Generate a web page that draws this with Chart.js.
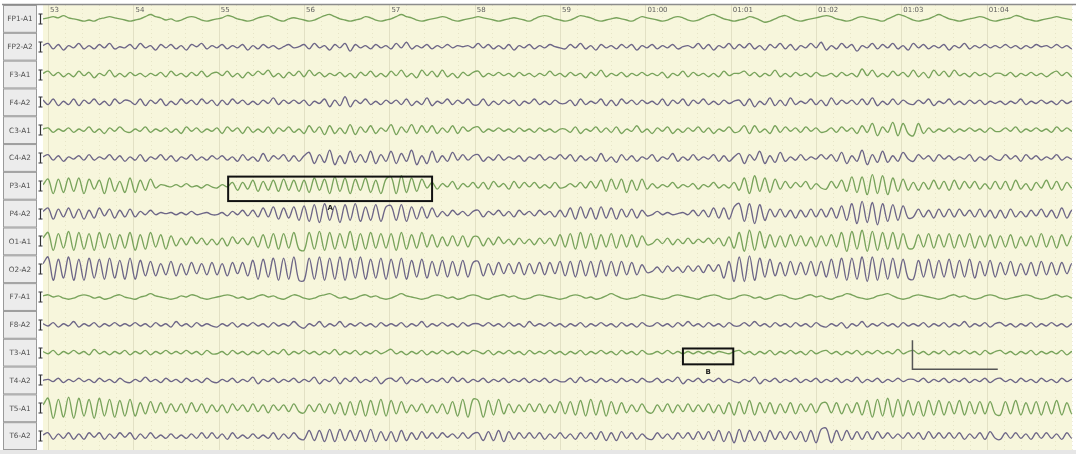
<!DOCTYPE html>
<html>
<head>
<meta charset="utf-8">
<script src="https://cdn.jsdelivr.net/npm/chart.js@4.4.1/dist/chart.umd.min.js"></script>
<style>
  html, body { margin: 0; padding: 0; background: #ffffff; }
  #wrap { width: 1076px; height: 454px; position: relative; }
</style>
</head>
<body>
<div id="wrap"><canvas id="eeg" width="1076" height="454"></canvas></div>
<script>
// Montage (referential to ear electrodes)
const channels = ['FP1-A1','FP2-A2','F3-A1','F4-A2','C3-A1','C4-A2','P3-A1','P4-A2',
                  'O1-A1','O2-A2','F7-A1','F8-A2','T3-A1','T4-A2','T5-A1','T6-A2'];

// Second markers along the top of the page
const secondTicks  = [53, 54, 55, 56, 57, 58, 59, 60, 61, 62, 63, 64];
const secondLabels = ['53','54','55','56','57','58','59','01:00','01:01','01:02','01:03','01:04'];

// Sampling of the traces (seconds)
const startTime = 52.94;
const sampleStep = 0.06;

// Amplitudes, one value per sample (arbitrary units, positive = up)
const fp1A1 = [0,1,2,1,3,1,0,-1,-2,-1,-2,0,1,2,1,0,-1,
  -2,-1,0,2,4,2,1,-1,0,-2,-1,1,2,1,-1,-2,-1,
  0,1,3,2,0,-1,-2,-1,1,2,3,1,-1,-2,0,1,0,
  -1,-2,-1,1,3,4,2,0,-1,-2,-1,0,2,1,-1,-2,-1,
  0,2,4,2,1,-1,-2,-1,0,1,2,1,-1,-2,-1,0,1,
  2,1,0,-1,-2,-1,0,1,0,-1,-2,0,2,3,2,0,-1,
  -2,-1,1,3,2,1,-1,-2,-1,0,1,0,-1,-2,0,2,1,
  0,-1,-2,-1,1,2,1,-1,-2,-1,1,3,4,2,0,-1,-2,
  -1,0,2,1,-1,-3,-2,0,2,3,1,-1,-2,-1,0,1,2,
  3,2,0,-1,-2,-1,1,2,1,0,-1,-2,0,2,4,3,1,
  -1,-2,-1,0,2,4,2,0,-1,-2,-1,0,1,2,1,-1,-2,
  -1,0,1,3,2,0,-1,-2,-1,0,1,2,1,0,-1,-2,-1];
const fp2A2 = [1,3,-2,2,-3,1,-1,3,-2,1,-2,2,-1,3,-2,0,-1,
  2,-2,3,-1,1,-3,2,-1,2,-2,1,-3,2,0,3,-2,1,
  -1,2,-2,1,-1,2,-3,1,-2,2,-1,1,-2,0,2,-1,0,
  2,-2,3,-1,1,-3,2,-1,3,-4,2,-1,1,-2,2,-1,1,
  -2,3,-1,4,-2,1,-1,2,-2,1,-1,2,-1,1,0,1,-1,
  3,-1,2,-2,1,-2,2,-3,1,-1,2,-2,1,-1,2,0,-1,
  -2,2,-1,3,-2,1,-3,2,-1,1,-2,2,-1,2,-3,1,-1,
  2,-2,1,-1,2,-2,0,1,-1,3,-2,2,-3,1,-1,3,-2,
  2,-1,3,-2,1,-3,2,-1,3,-2,2,-3,1,-1,3,-1,4,
  -3,1,-2,3,-1,2,-4,1,-1,3,-2,2,-1,3,-2,1,-3,
  3,-1,2,-2,1,-1,2,-3,1,-1,3,-2,1,-1,2,-1,1,
  -1,2,-1,1,-2,1,-1,2,0,1,-1,2,-1,1,-2,2,3];
const f3A1 = [1,3,-1,2,-2,1,-2,3,-1,2,-3,1,-1,4,-2,1,-2,
  2,-1,1,-2,1,-1,2,-2,3,-1,1,-2,2,-1,3,-2,1,
  2,-1,3,-2,1,-3,2,-1,3,0,4,-2,1,-3,2,-1,3,
  -2,4,-1,2,-2,1,-1,2,-2,1,-3,2,-1,3,-2,1,-2,
  3,-1,4,-2,1,-3,4,-1,3,-2,4,-2,1,-3,2,-1,2,
  3,-2,1,-1,2,-1,1,-2,2,-1,1,-2,1,-1,3,-1,1,
  -2,2,-1,1,-3,2,-1,4,-2,1,-1,2,-2,1,-1,2,-1,
  1,-1,2,-3,1,-1,3,-2,2,-1,1,-2,1,-2,3,-1,1,
  1,3,-1,2,-2,1,-1,4,-2,1,-2,2,-1,1,-2,2,-1,
  -1,1,-2,2,-1,1,-2,5,-1,4,-2,1,-2,3,-1,2,-2,
  4,-2,2,-3,4,-1,3,-2,4,-1,1,-2,2,-1,1,-2,1,
  1,-1,2,-2,1,-1,2,-1,1,-2,1,3,-1,2,-2,1,-1];
const f4A2 = [2,-2,3,-3,1,-2,3,-3,2,-1,3,-2,1,-3,3,-1,2,
  1,-2,3,-3,2,-1,3,-3,1,-2,3,-1,2,-2,3,-1,2,
  -3,2,-2,3,-1,2,-2,1,-2,2,-1,4,-2,2,-1,2,-1,
  2,-3,1,-1,3,-4,2,-3,5,-4,2,-1,3,-2,1,-2,2,
  -1,2,-2,3,-3,1,-2,4,-3,1,-1,3,-2,2,-1,3,-2,
  -2,3,-3,1,-2,2,-1,2,-3,1,-1,3,-2,1,-2,2,-1,
  -1,2,-3,3,-2,1,-1,3,-3,2,-3,3,-1,2,-2,2,-1,
  1,-2,3,-3,2,-1,3,-3,2,-1,3,-2,1,-2,2,-1,1,
  2,-3,3,-4,1,-2,4,-3,2,-3,4,-2,1,-1,3,-2,2,
  -3,4,-2,2,-1,2,-2,3,-2,4,-3,1,-2,3,-2,2,-1,
  -2,2,-1,3,-3,1,-1,3,-2,1,-2,2,-1,2,-2,1,-1,
  1,-2,1,-1,3,-2,1,-1,2,-1,1,-2,2,-1,1,-2,1];
const c3A1 = [1,2,-2,1,-1,2,-2,1,-1,3,-2,1,-3,2,-1,3,-1,
  -2,1,-1,3,-2,1,-1,2,-2,1,-3,3,-1,2,-2,1,-1,
  2,-3,3,-1,2,-3,3,-2,1,-2,3,-3,2,-1,3,-2,1,
  -3,4,-2,3,-4,4,-3,2,-3,5,-4,3,-2,4,-3,2,-1,
  5,-4,3,-2,5,-3,4,-2,4,-3,2,-2,4,-3,3,-1,2,
  3,-2,1,-1,2,-1,1,-2,2,-1,1,-2,2,-1,1,-2,1,
  1,-2,3,-3,1,-1,3,-2,2,-2,3,-3,1,-1,4,-2,1,
  -3,2,-1,3,-3,1,-2,2,-1,3,-2,2,-3,1,-1,3,-2,
  -1,4,-3,4,-2,1,-3,4,-2,3,-1,2,-2,3,-1,2,-2,
  -1,2,-2,3,-1,2,-3,4,-2,6,-5,3,-2,7,-5,6,-3,
  -5,6,-3,2,-2,1,-1,2,-2,1,-1,2,-1,1,-2,2,-1,
  -1,2,-1,3,-2,1,-1,2,-1,1,-2,3,-1,2,-1,1,-1];
const c4A2 = [1,3,-2,2,-3,1,-1,2,-2,3,-2,1,-1,3,-2,2,-3,
  1,-2,3,-3,1,-1,3,-2,2,-3,1,-1,3,-2,1,-2,2,
  -1,2,-2,1,-3,3,-2,1,-3,4,-3,2,-1,3,-3,2,-3,
  2,5,-5,3,-4,7,-6,2,-5,6,-4,3,-4,6,-5,3,-3,
  6,-5,4,-3,7,-6,2,-5,6,-4,2,-3,5,-2,3,-2,2,
  3,-3,1,-2,3,-2,1,-1,2,-3,1,-1,3,-2,1,-1,3,
  -1,3,-3,2,-2,1,-3,4,-3,1,-4,3,-2,2,-3,1,-1,
  3,-3,1,-1,4,-3,1,-2,3,-2,1,-1,3,-3,2,-3,1,
  4,-5,3,-2,6,-5,2,-4,5,-3,1,-2,3,-2,1,-1,3,
  -1,3,-3,5,-5,2,-3,7,-6,3,-4,6,-4,2,-3,5,-1,
  -3,3,-1,2,-3,3,-1,2,-2,1,-1,3,-3,1,-2,2,-1,
  -2,3,-1,2,-3,3,-1,2,-2,1,-1,3,-2,1,-1,2,0];
const p3A1 = [1,6,-7,6,-6,7,-5,7,-7,6,-3,5,-7,7,-5,4,-6,
  7,-6,5,-4,6,-2,1,0,-1,1,-1,2,-1,0,-2,1,-1,
  -2,1,-1,3,-4,3,-3,5,-5,4,-4,5,-5,6,-4,5,-5,
  5,-6,7,-4,6,-7,8,-5,7,-7,6,-4,7,-6,5,-7,6,
  8,-7,9,-6,7,-5,6,-2,3,-3,2,-1,4,-3,2,-1,3,
  -2,3,-3,4,-1,2,-3,4,-2,3,-1,3,-2,1,-2,3,-2,
  -1,2,-1,3,-2,4,-2,5,-5,6,-3,6,-6,5,-4,6,-3,
  2,-2,1,-1,3,-2,1,-1,2,-3,1,-1,3,-2,1,-2,3,
  -4,7,-7,9,-5,7,-6,6,-3,4,-2,3,-1,4,-3,2,-2,
  -3,4,-2,5,-5,8,-6,8,-8,10,-7,9,-8,7,-5,6,-4,
  3,-4,3,-3,5,-3,4,-4,5,-3,4,-2,4,-3,2,-3,4,
  -3,4,-4,5,-3,2,-4,3,-2,5,-3,4,-4,3,-2,3,-1];
const p4A2 = [2,5,-5,4,-3,5,-4,4,-5,3,-4,5,-2,4,-4,3,-3,
  4,-3,2,-1,3,-1,1,0,1,-1,1,-1,2,-1,0,1,-1,
  -1,1,-2,2,-1,3,-2,3,-3,5,-3,6,-5,5,-4,6,-6,
  7,-7,8,-8,9,-6,7,-8,8,-6,9,-7,6,-6,8,-7,6,
  7,-6,8,-7,6,-5,6,-4,5,-3,2,-2,3,-1,2,-2,2,
  3,-3,2,-1,3,-2,2,-3,3,-1,2,-2,3,-1,2,-3,3,
  -3,5,-5,6,-4,5,-5,6,-4,5,-5,4,-3,4,-4,3,-2,
  -1,2,-1,1,-1,0,1,-1,3,-2,3,-3,5,-4,5,-5,6,
  9,-7,9,-9,8,-6,4,-3,4,-3,3,-4,3,-3,4,-3,4,
  -3,5,-4,7,-6,9,-9,11,-8,10,-10,9,-7,8,-6,7,-4,
  -3,4,-3,3,-4,4,-3,4,-3,4,-2,3,-3,4,-3,3,-4,
  3,-4,4,-3,2,-3,3,-2,4,-3,3,-4,5,-4,3,-3,2];
const o1A1 = [3,8,-8,7,-6,9,-8,8,-7,7,-8,8,-6,7,-7,6,-6,
  8,-8,6,-7,8,-5,6,-7,5,-4,3,-3,4,-2,3,-3,2,
  -3,3,-4,4,-2,3,-3,4,-5,6,-6,7,-7,7,-6,8,-7,
  -8,8,-7,9,-8,8,-7,7,-6,9,-8,7,-7,8,-6,7,-6,
  7,-8,8,-7,6,-6,8,-5,6,-5,4,-4,5,-4,5,-5,4,
  4,-4,3,-3,4,-2,2,-3,3,-2,2,-3,3,-2,3,-4,6,
  -5,7,-7,8,-6,7,-7,6,-5,7,-6,6,-5,6,-5,5,-3,
  -2,2,-2,3,-3,2,-2,3,-2,2,-1,3,-2,3,-4,4,-6,
  8,-9,10,-8,9,-6,6,-5,5,-5,6,-4,5,-4,4,-5,5,
  -4,6,-5,8,-9,9,-7,10,-9,9,-8,8,-7,8,-7,7,-6,
  -6,6,-5,7,-6,6,-5,7,-6,6,-5,7,-6,5,-5,6,-6,
  5,-5,6,-6,4,-4,5,-5,7,-5,5,-6,6,-4,5,-5,4];
const o2A2 = [5,11,-10,9,-8,11,-10,9,-10,10,-8,9,-9,10,-8,8,-9,
  10,-9,8,-6,7,-6,5,-5,7,-6,5,-5,6,-4,5,-5,6,
  -5,5,-6,6,-4,6,-6,8,-9,9,-7,10,-10,10,-9,11,-10,
  -10,10,-9,11,-10,10,-9,11,-10,10,-8,11,-9,9,-8,10,-9,
  9,-8,10,-9,8,-7,9,-8,7,-6,8,-7,7,-6,8,-7,6,
  7,-6,5,-5,6,-4,5,-4,6,-5,5,-4,6,-5,6,-4,7,
  -6,7,-7,8,-6,7,-7,8,-6,7,-6,7,-5,6,-5,4,-3,
  -2,2,-3,3,-2,2,-3,3,-2,3,-3,4,-2,4,-8,7,-11,
  11,-11,12,-10,10,-7,9,-6,6,-6,7,-5,6,-5,7,-6,7,
  -7,9,-8,10,-10,10,-9,11,-11,11,-10,10,-9,10,-8,9,-8,
  -9,8,-7,9,-8,8,-7,9,-8,8,-7,9,-8,7,-6,8,-7,
  6,-5,7,-6,5,-5,6,-6,7,-5,6,-5,6,-4,5,-5,4];
const f7A1 = [1,2,0,1,-1,-2,-1,1,2,1,-1,0,-2,-1,1,2,0,
  -1,-2,0,1,3,1,0,-1,-2,-1,1,0,2,1,-1,-2,-1,
  0,1,2,1,-1,0,-2,-1,1,2,0,1,-1,-2,0,2,1,
  -1,-2,-1,1,2,3,1,-1,0,-2,-1,1,2,0,1,-1,-2,
  -1,1,3,1,0,-1,-2,-1,1,2,1,-1,0,-2,-1,1,2,
  1,-1,-2,0,1,2,0,1,-1,-2,-1,1,2,1,0,-1,-2,
  -1,1,2,1,-1,0,-2,-1,1,3,1,-1,-2,-1,0,2,1,
  0,-1,-2,-1,1,2,1,0,-1,-2,0,1,2,1,-1,-2,-1,
  1,2,1,-1,0,-2,-1,1,2,1,-1,-2,-1,1,2,0,1,
  -1,-2,0,1,3,2,0,-1,-2,-1,1,2,3,1,-1,-2,-1,
  1,2,1,0,-1,-2,-1,1,2,0,1,-1,-2,-1,1,2,1,
  -1,-2,-1,0,1,2,1,-1,-2,-1,1,2,0,1,-1,-2,0];
const f8A2 = [1,-1,2,-2,1,-1,3,-2,1,-1,2,-2,1,-1,2,-1,1,
  -1,2,-1,1,-2,2,-1,1,-2,3,-1,1,-2,2,-1,1,-1,
  -2,1,-1,2,-2,1,-1,2,-1,1,-2,2,-1,1,-1,3,-1,
  -3,1,-1,3,-2,1,-1,3,-2,1,-1,2,-1,1,-2,2,-1,
  1,-1,2,-2,1,-1,3,-2,1,-1,2,-1,1,-2,2,-1,1,
  1,-1,2,-1,1,-2,2,-1,1,-2,3,-1,1,-1,2,-1,1,
  -2,1,-1,2,-2,1,-1,2,-1,1,-2,2,-1,1,-2,2,-1,
  -1,2,-1,1,-2,2,-1,3,-1,1,-2,2,-1,1,-2,2,-1,
  -1,2,-1,3,-1,1,-2,2,-1,1,-2,2,-1,1,-2,2,-1,
  -2,1,-1,2,-3,1,-1,3,-2,1,-1,2,-1,1,-2,2,-1,
  1,-1,2,-2,1,-1,2,-2,1,-1,3,-2,1,-1,2,-2,1,
  2,-1,1,-2,1,-1,2,-2,1,-1,2,-1,1,-2,1,-1,1];
const t3A1 = [1,-1,2,-2,1,-1,2,-1,1,-2,3,-1,1,-2,1,-1,2,
  -2,1,-1,2,-2,1,-1,2,-1,1,-1,2,-1,1,-2,2,-1,
  -1,1,-2,2,-1,1,-2,1,-1,2,-2,1,-1,3,-2,1,-1,
  2,-1,1,-2,1,-1,3,-2,1,-1,2,-2,1,-1,2,-1,1,
  3,-1,1,-2,1,-1,2,-2,1,-1,2,-1,1,-2,1,-1,2,
  1,-1,2,-2,1,-1,2,-1,1,-2,2,-1,1,-1,2,-1,1,
  -2,1,-1,2,-2,1,-1,2,-1,1,-2,2,-1,1,-2,2,-1,
  -1,1,-1,2,-1,1,-1,1,-1,1,-1,1,-1,1,0,-1,1,
  2,-1,1,-2,1,-1,2,-2,1,-1,2,-1,1,-2,2,-1,1,
  2,-1,1,-2,1,-1,2,-2,1,-1,2,-1,1,-1,3,-1,1,
  2,-1,1,-2,1,-1,2,-2,1,-1,2,-1,1,-2,2,-1,1,
  2,-1,1,-2,1,-1,2,-2,1,-1,1,-1,2,-2,1,-1,1];
const t4A2 = [0,1,-1,2,-2,1,-1,2,-1,1,-2,2,-1,1,-2,2,-1,
  -2,1,-1,3,-1,1,-2,2,-1,1,-2,2,-1,1,-2,2,-1,
  -2,1,-1,2,-2,1,-1,3,-3,1,-1,2,-2,1,-1,2,-2,
  1,-1,3,-3,1,-1,3,-3,2,-1,3,-2,1,-1,3,-3,1,
  2,-1,3,-3,1,-1,2,-2,1,-1,2,-2,3,-1,2,-2,1,
  -1,2,-2,1,-1,2,-2,1,-1,2,-2,1,-1,2,-2,1,-1,
  -1,2,-2,3,-1,1,-2,2,-1,1,-2,2,-1,1,-2,2,-1,
  -1,2,-2,1,-1,3,-3,1,-1,2,-2,1,-1,2,-2,1,-1,
  -2,1,-1,3,-3,1,-1,2,-2,1,-1,2,-2,1,-1,2,-2,
  1,-1,2,-2,1,-1,3,-2,1,-1,2,-2,1,-1,2,-1,1,
  1,-1,2,-2,1,-1,2,-2,1,-1,2,-2,1,-1,2,-2,1,
  2,-1,1,-2,2,-1,1,-2,2,-1,1,-2,2,-1,1,-2,1];
const t5A1 = [3,9,-9,8,-8,10,-9,9,-7,8,-9,9,-7,8,-8,7,-7,
  8,-7,5,-5,6,-4,5,-4,4,-3,4,-4,5,-3,4,-4,3,
  -3,3,-4,4,-2,3,-3,4,-3,3,-4,3,-2,3,-3,4,-3,
  -4,3,-3,4,-4,4,-5,5,-6,6,-6,7,-7,7,-6,8,-7,
  7,-5,6,-4,3,-3,4,-4,3,-4,4,-5,6,-7,8,-8,8,
  7,-8,7,-6,8,-5,4,-4,3,-3,4,-3,4,-4,3,-4,6,
  -5,6,-6,7,-7,8,-6,7,-7,6,-5,5,-4,3,-3,4,-3,
  -4,3,-3,4,-4,3,-3,4,-3,3,-3,4,-4,3,-5,5,-6,
  6,-5,7,-6,5,-4,5,-5,4,-4,5,-5,4,-3,4,-4,4,
  5,-4,5,-5,4,-4,5,-6,7,-8,8,-7,9,-8,8,-7,7,
  -6,6,-7,7,-6,7,-6,6,-5,7,-6,6,-5,6,-5,6,-5,
  -6,6,-5,7,-6,5,-5,6,-6,6,-5,7,-6,5,-5,6,-4];
const t6A2 = [1,3,-3,2,-2,3,-3,2,-3,3,-1,3,-3,2,-2,3,-1,
  3,-3,2,-2,3,-2,1,-2,2,-2,1,-2,2,-2,3,-2,3,
  -2,2,-3,3,-2,1,-2,2,-2,1,-2,3,-3,2,-2,3,-2,
  -3,5,-4,5,-5,6,-5,6,-4,5,-4,5,-5,6,-5,4,-4,
  4,-5,5,-4,3,-3,4,-2,3,-2,3,-1,2,-2,3,-2,2,
  3,-4,4,-4,5,-5,4,-3,3,-2,3,-2,3,-3,2,-2,3,
  -2,2,-3,3,-2,3,-3,4,-4,3,-4,4,-2,3,-3,2,-2,
  -3,3,-2,2,-3,3,-2,3,-3,4,-3,4,-4,5,-5,4,-6,
  6,-5,5,-4,4,-5,5,-3,4,-3,4,-3,4,-5,5,-6,6,
  7,-6,5,-4,5,-3,4,-3,4,-3,4,-2,3,-2,2,-2,3,
  -2,3,-3,4,-2,3,-2,3,-2,3,-3,2,-2,3,-3,4,-2,
  -3,3,-2,3,-2,2,-3,3,-2,3,-2,2,-3,3,-2,3,-3];

const traces = [fp1A1, fp2A2, f3A1, f4A2, c3A1, c4A2, p3A1, p4A2,
                o1A1, o2A2, f7A1, f8A2, t3A1, t4A2, t5A1, t6A2];

// Marked segments and calibration bar (seconds / channel rows)
const marks = [
  { label: 'A', channel: 6,  from: 55.11, to: 57.50, up: 0.33, down: 0.55 },
  { label: 'B', channel: 12, from: 60.44, to: 61.03, up: 0.15, down: 0.42 }
];
const calibration = { channel: 12, at: 63.13, seconds: 1.0, rows: 1.05 };

const leftColor = '#78a35b';
const rightColor = '#6d6687';
const gain = 0.04;
const nRows = channels.length;

const baseline = i => nRows - i - 0.5;

const datasets = traces.map((vals, i) => ({
  label: channels[i],
  data: vals.map((v, k) => ({ x: startTime + k * sampleStep, y: baseline(i) + v * gain })),
  borderColor: i % 2 === 0 ? leftColor : rightColor,
  borderWidth: 1.35,
  pointRadius: 0,
  tension: 0.35,
  fill: false
}));

const eegFrame = {
  id: 'eegFrame',
  beforeDraw(chart) {
    const { ctx, chartArea: a, scales: { x, y } } = chart;
    ctx.save();
    ctx.fillStyle = '#ffffff';
    ctx.fillRect(0, 0, chart.width, chart.height);
    ctx.fillStyle = '#f7f6dc';
    ctx.fillRect(a.left, a.top, a.right - a.left, a.bottom - a.top);
    ctx.fillStyle = '#e6e6e6';
    ctx.fillRect(0, a.bottom, chart.width, chart.height - a.bottom);
    // minor grid (0.2 s)
    ctx.strokeStyle = 'rgba(200,198,160,0.35)';
    ctx.lineWidth = 1;
    ctx.setLineDash([1, 3]);
    for (let t = 53; t <= 65.001; t += 0.2) {
      const px = Math.round(x.getPixelForValue(t)) + 0.5;
      ctx.beginPath(); ctx.moveTo(px, a.top); ctx.lineTo(px, a.bottom); ctx.stroke();
    }
    ctx.setLineDash([]);
    // second lines
    ctx.strokeStyle = '#e2e0c4';
    secondTicks.forEach(s => {
      const px = Math.round(x.getPixelForValue(s)) + 0.5;
      ctx.beginPath(); ctx.moveTo(px, a.top); ctx.lineTo(px, a.bottom); ctx.stroke();
    });
    // top rule
    ctx.strokeStyle = '#8c8c8c';
    ctx.lineWidth = 1.5;
    ctx.beginPath(); ctx.moveTo(2, a.top - 0.5); ctx.lineTo(chart.width, a.top - 0.5); ctx.stroke();
    // channel label boxes
    ctx.lineWidth = 1;
    ctx.font = '7.3px "DejaVu Sans"';
    ctx.textAlign = 'center';
    ctx.textBaseline = 'middle';
    channels.forEach((name, i) => {
      const top = y.getPixelForValue(nRows - i);
      const bot = y.getPixelForValue(nRows - i - 1);
      ctx.fillStyle = '#ececec';
      ctx.fillRect(3.5, top + 0.5, 33, bot - top - 1);
      ctx.strokeStyle = '#9a9a9a';
      ctx.strokeRect(3.5, top + 0.5, 33, bot - top - 1);
      ctx.fillStyle = '#505050';
      ctx.fillText(name, 20, (top + bot) / 2 + 0.5);
      // amplitude marker
      const cy = Math.round(y.getPixelForValue(baseline(i)));
      ctx.strokeStyle = '#333333';
      ctx.lineWidth = 1.2;
      ctx.beginPath();
      ctx.moveTo(40.5, cy - 5); ctx.lineTo(40.5, cy + 5);
      ctx.moveTo(38.5, cy - 5); ctx.lineTo(42.5, cy - 5);
      ctx.moveTo(38.5, cy + 5); ctx.lineTo(42.5, cy + 5);
      ctx.stroke();
      ctx.lineWidth = 1;
    });
    ctx.restore();
  },
  afterDatasetsDraw(chart) {
    const { ctx, chartArea: a, scales: { x, y } } = chart;
    ctx.save();
    // second labels
    ctx.font = '7px "DejaVu Sans"';
    ctx.fillStyle = '#606060';
    ctx.textAlign = 'left';
    ctx.textBaseline = 'top';
    secondTicks.forEach((s, i) => {
      ctx.fillText(secondLabels[i], x.getPixelForValue(s) + 2, a.top + 2);
    });
    // marked segments
    ctx.strokeStyle = '#111111';
    ctx.lineWidth = 2;
    ctx.font = 'bold 7px "DejaVu Sans"';
    ctx.fillStyle = '#222222';
    ctx.textAlign = 'center';
    marks.forEach(m => {
      const x0 = x.getPixelForValue(m.from), x1 = x.getPixelForValue(m.to);
      const y0 = y.getPixelForValue(baseline(m.channel) + m.up);
      const y1 = y.getPixelForValue(baseline(m.channel) - m.down);
      ctx.strokeRect(x0, y0, x1 - x0, y1 - y0);
      ctx.fillText(m.label, (x0 + x1) / 2, y1 + 4);
    });
    // calibration bar
    const cx0 = x.getPixelForValue(calibration.at);
    const cx1 = x.getPixelForValue(calibration.at + calibration.seconds);
    const cyb = y.getPixelForValue(baseline(calibration.channel) - 0.6);
    const cyt = y.getPixelForValue(baseline(calibration.channel) - 0.6 + calibration.rows);
    ctx.strokeStyle = '#555555';
    ctx.lineWidth = 1.5;
    ctx.beginPath();
    ctx.moveTo(cx0, cyt); ctx.lineTo(cx0, cyb); ctx.lineTo(cx1, cyb);
    ctx.stroke();
    ctx.restore();
  }
};

new Chart(document.getElementById('eeg'), {
  type: 'line',
  data: { datasets },
  options: {
    responsive: false,
    animation: false,
    events: [],
    layout: { padding: { left: 43, right: 4, top: 5, bottom: 4 } },
    plugins: { legend: { display: false }, tooltip: { enabled: false } },
    scales: {
      x: { type: 'linear', min: 52.94, max: 65.0, display: false },
      y: { type: 'linear', min: 0, max: nRows, display: false }
    }
  },
  plugins: [eegFrame]
});
</script>
</body>
</html>
